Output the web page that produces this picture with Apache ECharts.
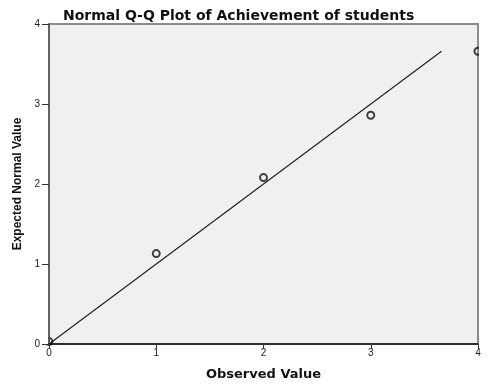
<!DOCTYPE html>
<html>
<head>
<meta charset="utf-8">
<script src="https://cdn.jsdelivr.net/npm/echarts@6/dist/echarts.min.js"></script>
<style>html,body{margin:0;padding:0;background:#fff}#c{width:495px;height:392px}</style>
</head>
<body>
<div id="c"></div>
<script>
var observed = [0, 1, 2, 3, 4];
var expected = [0.03, 1.13, 2.08, 2.86, 3.66];
var refLine = [[0, 0], [3.66, 3.66]];
var axisTicks = [0, 1, 2, 3, 4];

var points = observed.map(function (v, i) { return [v, expected[i]]; });
var chart = echarts.init(document.getElementById('c'), null, {renderer: 'canvas'});
var tickLabel = {color: '#222', fontSize: 10, fontFamily: 'Liberation Sans, Arial, sans-serif'};
chart.setOption({
  animation: false,
  backgroundColor: '#ffffff',
  title: {
    text: 'Normal Q-Q Plot of Achievement of students',
    left: 58, top: 4,
    textStyle: {fontSize: 14, fontWeight: 'bold', color: '#111', fontFamily: 'DejaVu Sans, sans-serif'}
  },
  grid: {
    left: 49, right: 17, top: 24, bottom: 48,
    show: true, backgroundColor: '#f0f0f0', borderColor: '#8c8c8c', borderWidth: 2
  },
  xAxis: {
    type: 'value', min: axisTicks[0], max: axisTicks[axisTicks.length - 1], interval: 1, z: 10,
    name: 'Observed Value', nameLocation: 'middle', nameGap: 24,
    nameTextStyle: {fontSize: 13, fontWeight: 'bold', color: '#111', fontFamily: 'DejaVu Sans, sans-serif'},
    axisLine: {show: true, lineStyle: {color: '#111', width: 1.5}},
    axisTick: {show: true, length: 5, lineStyle: {color: '#333'}},
    axisLabel: Object.assign({margin: 4}, tickLabel),
    splitLine: {show: false}
  },
  yAxis: {
    type: 'value', min: axisTicks[0], max: axisTicks[axisTicks.length - 1], interval: 1, z: 10,
    name: 'Expected Normal Value', nameLocation: 'middle', nameGap: 25,
    nameTextStyle: {fontSize: 12, fontWeight: 'bold', color: '#111', fontFamily: 'Liberation Sans, Arial, sans-serif'},
    axisLine: {show: true, lineStyle: {color: '#555', width: 1.5}},
    axisTick: {show: true, length: 7, lineStyle: {color: '#333'}},
    axisLabel: Object.assign({margin: 9}, tickLabel),
    splitLine: {show: false}
  },
  graphic: {
    z: 5,
    elements: [
      {type: 'rect', z: 5, shape: {x: 479, y: 0, width: 20, height: 392}, style: {fill: '#ffffff'}},
      {type: 'rect', z: 5, shape: {x: 0, y: 320, width: 48, height: 24}, style: {fill: '#ffffff'}}
    ]
  },
  series: [
    {
      type: 'line', data: refLine, showSymbol: false, symbol: 'none', z: 2,
      lineStyle: {color: '#222', width: 1.2}
    },
    {
      type: 'scatter', data: points, symbol: 'circle', symbolSize: 7, z: 3, clip: false,
      itemStyle: {color: 'rgba(0,0,0,0)', borderColor: '#111', borderWidth: 2}
    }
  ]
});
</script>
</body>
</html>
